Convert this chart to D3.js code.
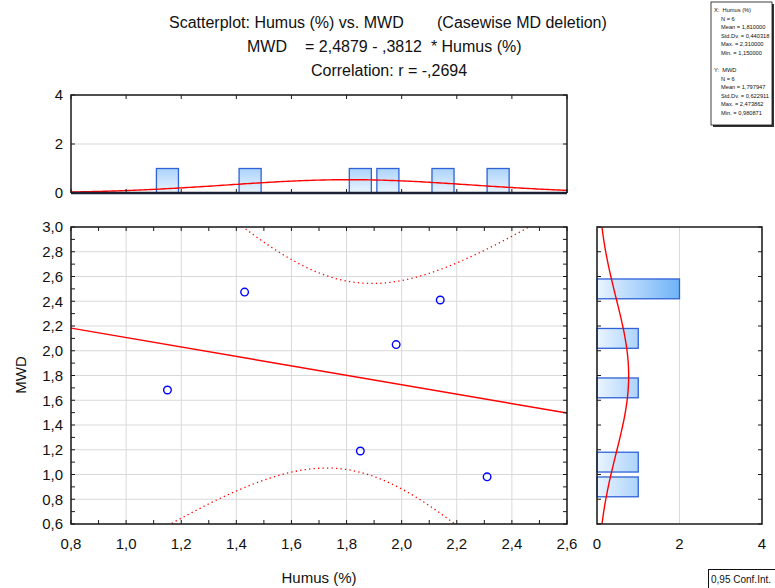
<!DOCTYPE html>
<html><head><meta charset="utf-8">
<script src="https://cdn.jsdelivr.net/npm/d3@7/dist/d3.min.js"></script>
<style>body{margin:0;background:#fff}svg{display:block;font-family:"Liberation Sans",Arial,sans-serif}</style>
</head><body><svg id="c" width="775" height="588"></svg>
<script>
// ---- data ----
const humus = [1.15, 1.43, 1.85, 1.98, 2.14, 2.31];
const mwd = [1.683, 2.473862, 1.19, 2.05, 2.41, 0.980871];
const intercept = 2.4879, slope = -0.3812, tCrit = 2.776;
const humusBins = [[1.1,1.2],[1.4,1.5],[1.8,1.9],[1.9,2.0],[2.1,2.2],[2.3,2.4]];
const humusCounts = [1,1,1,1,1,1];
const mwdBins = [[2.4,2.6],[2.0,2.2],[1.6,1.8],[1.0,1.2],[0.8,1.0]];
const mwdCounts = [2,1,1,1,1];
const xTicks = [0.8,1.0,1.2,1.4,1.6,1.8,2.0,2.2,2.4,2.6];
const yTicks = [0.6,0.8,1.0,1.2,1.4,1.6,1.8,2.0,2.2,2.4,2.6,2.8,3.0];
const histTicks = [0,2,4];
const statsX = ["X:  Humus (%)","N = 6","Mean = 1,810000","Std.Dv. = 0,440318","Max. = 2,310000","Min. = 1,150000"];
const statsY = ["Y:  MWD","N = 6","Mean = 1,797947","Std.Dv. = 0,622911","Max. = 2,473862","Min. = 0,980871"];
const fmt = v => d3.format(".1f")(v).replace(".", ",");

const svg = d3.select("#c");
const defs = svg.append("defs");
const x = d3.scaleLinear().domain([0.8,2.6]).range([71,567]);
const y = d3.scaleLinear().domain([0.6,3.0]).range([524,227]);
const yTop = d3.scaleLinear().domain([0,4]).range([193,95]);
const xRight = d3.scaleLinear().domain([0,4]).range([597,762]);

const n = humus.length;
const mx = d3.mean(humus), my = d3.mean(mwd);
const sx = d3.deviation(humus), sy = d3.deviation(mwd);
const Sxx = d3.sum(humus, v => (v-mx)*(v-mx));
const sRes = Math.sqrt(d3.sum(humus.map((v,i)=> Math.pow(mwd[i]-(intercept+slope*v),2)))/(n-2));
const pdf = (v,m,s) => Math.exp(-0.5*((v-m)/s)**2)/(s*Math.sqrt(2*Math.PI));

// clip paths
[["cMain",71,227,496,297],["cTop",71,95,496,98],["cRight",597,227,165,297]].forEach(([id,a,b,w,h])=>{
  defs.append("clipPath").attr("id",id).append("rect").attr("x",a).attr("y",b).attr("width",w).attr("height",h);
});
// gradients
const gH = defs.append("linearGradient").attr("id","gH").attr("gradientUnits","userSpaceOnUse")
  .attr("x1",xRight(0)).attr("x2",xRight(2)).attr("y1",0).attr("y2",0);
gH.append("stop").attr("offset",0).attr("stop-color","#eaf4ff");
gH.append("stop").attr("offset",1).attr("stop-color","#6fb3f7");
const gV = defs.append("linearGradient").attr("id","gV").attr("gradientUnits","userSpaceOnUse")
  .attr("x1",0).attr("x2",0).attr("y1",yTop(0)).attr("y2",yTop(2));
gV.append("stop").attr("offset",0).attr("stop-color","#eaf4ff");
gV.append("stop").attr("offset",1).attr("stop-color","#6fb3f7");

const gridC = "#d9d9d9", frameC = "#1a1a1a";

// ---------- main plot ----------
const gm = svg.append("g");
gm.selectAll(".gx").data(xTicks).join("line").attr("x1",d=>x(d)).attr("x2",d=>x(d)).attr("y1",227).attr("y2",524).attr("stroke",gridC);
gm.selectAll(".gy").data(yTicks).join("line").attr("y1",d=>y(d)).attr("y2",d=>y(d)).attr("x1",71).attr("x2",567).attr("stroke",gridC);
const mainC = gm.append("g").attr("clip-path","url(#cMain)");
const xs = d3.range(0.8, 2.6001, 0.01);
mainC.append("line").attr("x1",x(0.8)).attr("y1",y(intercept+slope*0.8)).attr("x2",x(2.6)).attr("y2",y(intercept+slope*2.6))
  .attr("stroke","#ff0000").attr("stroke-width",1.4);
const band = sign => d3.line().x(v=>x(v)).y(v=>{
  const half = tCrit*sRes*Math.sqrt(1/n + (v-mx)*(v-mx)/Sxx);
  return y(intercept+slope*v + sign*half);
})(xs);
[1,-1].forEach(sg=> mainC.append("path").attr("d",band(sg)).attr("fill","none").attr("stroke","#ff0000")
  .attr("stroke-width",1.3).attr("stroke-dasharray","1.3,3.2"));
gm.selectAll(".pt").data(humus).join("circle").attr("cx",d=>x(d)).attr("cy",(d,i)=>y(mwd[i])).attr("r",3.8)
  .attr("fill","none").attr("stroke","#0000ff").attr("stroke-width",1.4);
gm.append("rect").attr("x",71).attr("y",227).attr("width",496).attr("height",297).attr("fill","none").attr("stroke",frameC).attr("stroke-width",1.5);
// minor ticks
const xMinor = d3.range(0.8,2.6001,0.1), yMinor = d3.range(0.6,3.0001,0.1);
gm.selectAll(".tb").data(xMinor).join("line").attr("x1",d=>x(d)).attr("x2",d=>x(d)).attr("y1",524).attr("y2",520).attr("stroke",frameC);
gm.selectAll(".tt").data(xMinor).join("line").attr("x1",d=>x(d)).attr("x2",d=>x(d)).attr("y1",227).attr("y2",231).attr("stroke",frameC);
gm.selectAll(".tl").data(yMinor).join("line").attr("y1",d=>y(d)).attr("y2",d=>y(d)).attr("x1",71).attr("x2",75).attr("stroke",frameC);
gm.selectAll(".tr").data(yMinor).join("line").attr("y1",d=>y(d)).attr("y2",d=>y(d)).attr("x1",567).attr("x2",563).attr("stroke",frameC);
gm.selectAll(".xl").data(xTicks).join("text").attr("x",d=>x(d)).attr("y",549).attr("text-anchor","middle")
  .attr("font-size",15).attr("fill","#111").text(fmt);
gm.selectAll(".yl").data(yTicks).join("text").attr("x",63).attr("y",d=>y(d)).attr("dy","0.36em").attr("text-anchor","end")
  .attr("font-size",15).attr("fill","#111").text(fmt);
svg.append("text").attr("x",319).attr("y",583).attr("text-anchor","middle").attr("font-size",15).attr("fill","#111").text("Humus (%)");
svg.append("text").attr("transform","translate(26,375) rotate(-90)").attr("text-anchor","middle").attr("font-size",15).attr("fill","#111").text("MWD");

// ---------- top histogram ----------
const gt = svg.append("g");
gt.selectAll(".g").data(histTicks).join("line").attr("x1",71).attr("x2",567).attr("y1",d=>yTop(d)).attr("y2",d=>yTop(d)).attr("stroke",gridC);
gt.selectAll(".bar").data(humusBins).join("rect")
  .attr("x",d=>x(d[0]+0.01)).attr("width",d=>x(d[1]-0.01)-x(d[0]+0.01))
  .attr("y",(d,i)=>yTop(humusCounts[i])).attr("height",(d,i)=>yTop(0)-yTop(humusCounts[i]))
  .attr("fill","url(#gV)").attr("stroke","#2f62d6").attr("stroke-width",1.3);
gt.append("path").attr("clip-path","url(#cTop)").attr("d", d3.line().x(v=>x(v)).y(v=>yTop(n*0.1*pdf(v,mx,sx)))(xs))
  .attr("fill","none").attr("stroke","#ff0000").attr("stroke-width",1.4);
gt.append("path").attr("d",`M71,193V95H567V193`).attr("fill","none").attr("stroke",frameC).attr("stroke-width",1.5);
gt.append("line").attr("x1",71).attr("x2",567).attr("y1",193).attr("y2",193).attr("stroke","#1c2235").attr("stroke-width",2.5);
gt.selectAll(".tt").data(xTicks).join("line").attr("x1",d=>x(d)).attr("x2",d=>x(d)).attr("y1",95).attr("y2",99).attr("stroke",frameC);
gt.selectAll(".tb").data(xTicks).join("line").attr("x1",d=>x(d)).attr("x2",d=>x(d)).attr("y1",193).attr("y2",189).attr("stroke",frameC);
gt.selectAll(".tl").data(histTicks).join("line").attr("y1",d=>yTop(d)).attr("y2",d=>yTop(d)).attr("x1",71).attr("x2",75).attr("stroke",frameC);
gt.selectAll(".tr").data(histTicks).join("line").attr("y1",d=>yTop(d)).attr("y2",d=>yTop(d)).attr("x1",567).attr("x2",563).attr("stroke",frameC);
gt.selectAll(".yl").data(histTicks).join("text").attr("x",63).attr("y",d=>yTop(d)).attr("dy","0.36em").attr("text-anchor","end")
  .attr("font-size",15).attr("fill","#111").text(d=>d);

// ---------- right histogram ----------
const gr = svg.append("g");
gr.selectAll(".g").data(histTicks).join("line").attr("x1",d=>xRight(d)).attr("x2",d=>xRight(d)).attr("y1",227).attr("y2",524).attr("stroke",gridC);
gr.selectAll(".bar").data(mwdBins).join("rect")
  .attr("y",d=>y(d[1]-0.02)).attr("height",d=>y(d[0]+0.02)-y(d[1]-0.02))
  .attr("x",xRight(0)).attr("width",(d,i)=>xRight(mwdCounts[i])-xRight(0))
  .attr("fill","url(#gH)").attr("stroke","#2f62d6").attr("stroke-width",1.3);
const ys = d3.range(0.6, 3.0001, 0.01);
gr.append("path").attr("clip-path","url(#cRight)").attr("d", d3.line().y(v=>y(v)).x(v=>xRight(n*0.2*pdf(v,my,sy)))(ys))
  .attr("fill","none").attr("stroke","#ff0000").attr("stroke-width",1.4);
gr.append("rect").attr("x",597).attr("y",227).attr("width",165).attr("height",297).attr("fill","none").attr("stroke",frameC).attr("stroke-width",1.5);
const yMaj = d3.range(0.6,3.0001,0.2);
gr.selectAll(".tl").data(yMaj).join("line").attr("y1",d=>y(d)).attr("y2",d=>y(d)).attr("x1",597).attr("x2",601).attr("stroke",frameC);
gr.selectAll(".tr").data(yMaj).join("line").attr("y1",d=>y(d)).attr("y2",d=>y(d)).attr("x1",762).attr("x2",758).attr("stroke",frameC);
gr.selectAll(".xl").data(histTicks).join("text").attr("x",d=>xRight(d)).attr("y",549).attr("text-anchor","middle")
  .attr("font-size",15).attr("fill","#111").text(d=>d);

// ---------- titles ----------
const t = svg.append("g").attr("font-size",16).attr("fill","#111");
t.append("text").attr("x",169).attr("y",28).text("Scatterplot: Humus (%) vs. MWD");
t.append("text").attr("x",437).attr("y",28).text("(Casewise MD deletion)");
t.append("text").attr("x",247).attr("y",52).text("MWD");
t.append("text").attr("x",305).attr("y",52).attr("xml:space","preserve").text("= 2,4879 - ,3812  * Humus (%)");
t.append("text").attr("x",311).attr("y",76).text("Correlation: r = -,2694");

// ---------- stats box ----------
const sb = svg.append("g");
sb.append("rect").attr("x",713).attr("y",4).attr("width",61).attr("height",123).attr("fill","#333");
sb.append("rect").attr("x",711).attr("y",2).attr("width",61).attr("height",123).attr("fill","#fff").attr("stroke","#111").attr("stroke-width",0.8);
const st = sb.append("g").attr("font-size",5.7).attr("fill","#111");
statsX.forEach((s,i)=> st.append("text").attr("x", i===0?714:721).attr("y",12+i*8.6).attr("xml:space","preserve").text(s));
statsY.forEach((s,i)=> st.append("text").attr("x", i===0?714:721).attr("y",72+i*8.6).attr("xml:space","preserve").text(s));

// ---------- conf int box ----------
svg.append("rect").attr("x",708.5).attr("y",569.5).attr("width",70).attr("height",22).attr("fill","#fff").attr("stroke","#111").attr("stroke-width",1);
svg.append("text").attr("x",711).attr("y",583).attr("font-size",10).attr("fill","#111").text("0,95 Conf.Int.");
</script></body></html>
